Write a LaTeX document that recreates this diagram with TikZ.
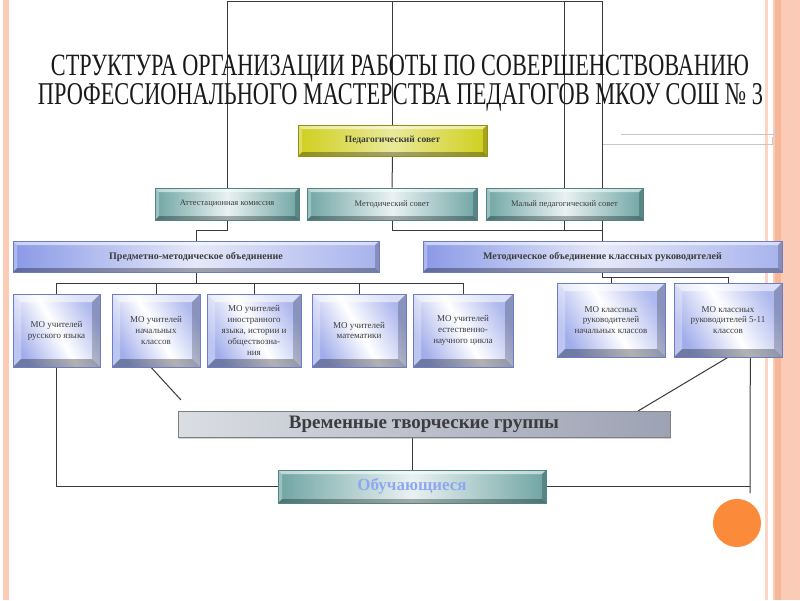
\documentclass[tikz,border=0pt]{standalone}
\usepackage{fontspec}
\setmainfont{Liberation Serif}
\usepackage{graphicx}
\usepackage{tikz}
\usetikzlibrary{positioning,calc,backgrounds,shadows}
\definecolor{cInk}{HTML}{3C3C3C}
\definecolor{cLine}{HTML}{3A3A3A}
\definecolor{cTeal}{HTML}{6FA5A4}
\definecolor{cTealD}{HTML}{4F8584}
\definecolor{cBlue}{HTML}{8A99E6}
\definecolor{cBlueD}{HTML}{6E7CC4}
\definecolor{cYel}{HTML}{CFCF1E}
\definecolor{cGrayL}{HTML}{DADDE2}
\definecolor{cGrayD}{HTML}{9DA2B4}
\definecolor{cPink}{HTML}{FBCBB6}
\definecolor{cPinkD}{HTML}{F6B698}
\definecolor{cOrange}{HTML}{FB8B3B}
\definecolor{cSky}{HTML}{8FA7F0}
\tikzset{
  bev/.store in=\bevw, bev=4pt,
  bevel/.style={path picture={
    \path (path picture bounding box.north west) coordinate (pa)
          (path picture bounding box.north east) coordinate (pb)
          (path picture bounding box.south east) coordinate (pc)
          (path picture bounding box.south west) coordinate (pd);
    \fill[white,opacity=.55] (pa) -- (pb) -- ([xshift=-\bevw,yshift=-\bevw]pb) -- ([xshift=\bevw,yshift=-\bevw]pa) -- cycle;
    \fill[white,opacity=.3] (pa) -- (pd) -- ([xshift=\bevw,yshift=\bevw]pd) -- ([xshift=\bevw,yshift=-\bevw]pa) -- cycle;
    \fill[black,opacity=.2] (pb) -- (pc) -- ([xshift=-\bevw,yshift=\bevw]pc) -- ([xshift=-\bevw,yshift=-\bevw]pb) -- cycle;
    \fill[black,opacity=.3] (pd) -- (pc) -- ([xshift=-\bevw,yshift=\bevw]pc) -- ([xshift=\bevw,yshift=\bevw]pd) -- cycle;
  }},
  tbox/.style={draw=cTealD,line width=0.6pt,left color=cTeal,right color=cTeal,middle color=white!85!cTeal,
    bevel,inner sep=1pt,align=center,text=cInk,font=\fontsize{8.5}{10}\selectfont},
  ybox/.style={tbox,draw=cYel!70!black,left color=cYel,right color=cYel,middle color=cYel!45!white,
    font=\bfseries\fontsize{9.5}{10}\selectfont},
  bbox/.style={tbox,draw=cBlueD,left color=cBlue,right color=cBlue!75,middle color=cBlue!22,
    font=\bfseries\fontsize{10}{11}\selectfont},
  mbox/.style={tbox,bev=8pt,draw=cBlueD,left color=cBlue!80,right color=cBlue!70,middle color=white,
    shading angle=120,font=\fontsize{9}{10.8}\selectfont},
  gbox/.style={draw=gray,line width=0.6pt,left color=cGrayL,right color=cGrayD,
    drop shadow={shadow xshift=1pt,shadow yshift=-1.5pt,opacity=.35},
    text=cInk,font=\bfseries\fontsize{19}{21}\selectfont},
  con/.style={line width=1pt,draw=cLine},
  fcon/.style={line width=0.8pt,draw=black!22},
}

\begin{document}
\begin{tikzpicture}[x=1pt,y=-1pt]
  \useasboundingbox (0,0) rectangle (800,600);
  % title
  \node[anchor=base,inner sep=0pt,text=black!90] (ttl1) at (400,75)
    {\resizebox{698pt}{20.5pt}{СТРУКТУРА ОРГАНИЗАЦИИ РАБОТЫ ПО СОВЕРШЕНСТВОВАНИЮ}};
  \node[anchor=base,inner sep=0pt,text=black!90] (ttl2) at (400.5,104)
    {\resizebox{725pt}{21pt}{ПРОФЕССИОНАЛЬНОГО МАСТЕРСТВА ПЕДАГОГОВ МКОУ СОШ № 3}};

  % councils
  \node[ybox,minimum width=189pt,minimum height=31pt] (ped) at (392.5,140.5) {Педагогический совет};
  \node[tbox,minimum width=144pt,minimum height=32pt] (att) at (227,204) {Аттестационная комиссия};
  \node[tbox,minimum width=170pt,minimum height=32pt] (met) at (392,204) {Методический совет};
  \node[tbox,minimum width=157pt,minimum height=32pt] (maly) at (564.5,204) {Малый педагогический совет};

  % unions
  \node[bbox,minimum width=366pt,minimum height=31pt] (pmo) at (196,256.5) {Предметно-методическое объединение};
  \node[bbox,minimum width=359pt,minimum height=31pt] (mokr) at (602.5,256.5) {Методическое объединение классных руководителей};

  % subject groups
  \node[mbox,minimum width=87pt,minimum height=73pt] (rus) at (56.5,330.5) {МО учителей\\русского языка};
  \node[mbox,minimum width=88pt,minimum height=73pt] (nach) at (156,330.5) {МО учителей\\начальных\\классов};
  \node[mbox,minimum width=94pt,minimum height=73pt] (inos) at (254,330.5) {МО учителей\\иностранного\\языка, истории и\\обществозна-\\ния};
  \node[mbox,minimum width=94pt,minimum height=73pt] (mat) at (359,330.5) {МО учителей\\математики};
  \node[mbox,minimum width=100pt,minimum height=73pt] (est) at (463,330.5) {МО учителей\\естественно-\\научного цикла};
  \node[mbox,minimum width=108pt,minimum height=74pt] (kr1) at (611,320) {МО классных\\руководителей\\начальных классов};
  \node[mbox,minimum width=108pt,minimum height=74pt] (kr2) at (728,320) {МО классных\\руководителей 5-11\\классов};

  % bottom
  \node[gbox,minimum width=492pt,minimum height=26pt] (vtg) at (424,424) {Временные творческие группы};
  \node[tbox,text=cSky,minimum width=268pt,minimum height=33pt,font=\bfseries\fontsize{17}{19}\selectfont] (obu) at (412,486.5) {Обучающиеся};

  \fill[cOrange] (737,523) circle (24pt);

  \begin{scope}[on background layer]
    \fill[white] (0,0) rectangle (800,600);
    \fill[cPink] (3,0) rectangle (9,600);
    \fill[cPink!80] (765,0) rectangle (768,600);
    \fill[cPink] (773,0) rectangle (800,600);
    \fill[cPinkD] (775,0) rectangle (781,600);
    \fill[cPinkD!70] (789,0) rectangle (795,600);
    \coordinate (top) at (0,1.5);
    \coordinate (j2) at (0,230);
    \coordinate (j3) at (0,283);
    \coordinate (j4) at (0,277);
    \coordinate (j5) at (750,493);
    \coordinate (d1) at (181,400);
    \coordinate (d2) at (638,411);
    \draw[con] (att.north) |- (top -| mokr.north) -- (mokr.north);
    \draw[con] (ped.north) -- (ped.north |- top);
    \draw[con] (maly.north) -- (maly.north |- top);
    \draw[con] (ped.south) -- (met.north);
    \draw[con] (met.south) |- (j2 -| mokr.north);
    \draw[con] (maly.south) -- (maly.south |- j2);
    \draw[con] (att.south) |- (j2 -| pmo.north) -- (pmo.north);
    \draw[con] (pmo.south) -- (pmo.south |- j3);
    \draw[con] (rus.north) |- (j3 -| est.north) -- (est.north);
    \foreach \n in {nach,inos,mat}
      \draw[con] (\n.north) -- (\n.north |- j3);
    \draw[con] (mokr.south) |- (j4 -| kr2.north) -- (kr2.north);
    \draw[con] (kr1.north) -- (kr1.north |- j4);
    \draw[con] (rus.south) |- (obu.west);
    \draw[con] ([xshift=-5pt]nach.south) -- (d1);
    \draw[con] (kr2.south) -- (d2);
    \draw[con] ($(kr2.south east)+(-32,0)$) -- (j5);
    \draw[con] (obu.east) -- (obu.east -| j5);
    \draw[con] (obu.north) -- (obu.north |- vtg.south);
    \draw[fcon] (621,134) -- (775,134) -- (775,126);
    \draw[fcon] (603,144) -- (772,144) -- (772,137);
  \end{scope}
\end{tikzpicture}
\end{document}
